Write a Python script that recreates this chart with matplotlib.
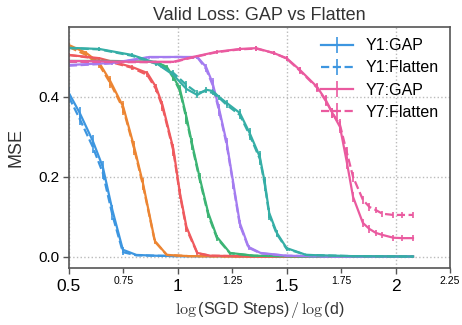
import matplotlib
matplotlib.use('Agg')
import matplotlib.pyplot as plt
from matplotlib.ticker import FixedLocator

plt.rcParams['font.family'] = ['Liberation Sans', 'DejaVu Sans']
plt.rcParams['mathtext.fontset'] = 'cm'

# %% data
names = ['Y1', 'Y2', 'Y3', 'Y4', 'Y5', 'Y6', 'Y7']
colors = ['#3d96e0', '#ec8533', '#ef5a5e', '#3cb474', '#a47cf0', '#35aea6', '#ea5a9f']

x_y1 = [0.5, 0.55, 0.61, 0.656, 0.70, 0.748, 0.81, 0.9, 1.0, 1.2, 1.5, 1.8, 2.08]
gap_y1 = [0.41, 0.36, 0.29, 0.225, 0.117, 0.018, 0.005, 0.003, 0.002, 0.002, 0.001, 0.001, 0.001]
flat_y1 = [0.40, 0.345, 0.275, 0.21, 0.105, 0.012, 0.004, 0.003, 0.002, 0.002, 0.001, 0.001, 0.001]
err_y1 = [0.015, 0.015, 0.015, 0.015, 0.012, 0.006, 0.002, 0.001, 0.001, 0.001, 0.001, 0.001, 0.001]

x_y2 = [0.5, 0.58, 0.64, 0.69, 0.75, 0.80, 0.84, 0.895, 0.95, 1.05, 1.3, 1.6, 2.08]
gap_y2 = [0.53, 0.51, 0.485, 0.44, 0.375, 0.275, 0.185, 0.04, 0.005, 0.002, 0.001, 0.001, 0.001]
flat_y2 = [0.525, 0.505, 0.48, 0.435, 0.37, 0.27, 0.18, 0.038, 0.005, 0.002, 0.001, 0.001, 0.001]
err_y2 = [0.005, 0.006, 0.008, 0.012, 0.015, 0.015, 0.012, 0.006, 0.002, 0.001, 0.001, 0.001, 0.001]

x_y3 = [0.5, 0.64, 0.79, 0.86, 0.90, 0.93, 0.98, 1.01, 1.04, 1.09, 1.15, 1.4, 1.7, 2.08]
gap_y3 = [0.505, 0.497, 0.475, 0.46, 0.425, 0.38, 0.27, 0.16, 0.075, 0.01, 0.003, 0.001, 0.001, 0.001]
flat_y3 = [0.505, 0.495, 0.473, 0.455, 0.42, 0.375, 0.265, 0.155, 0.07, 0.009, 0.003, 0.001, 0.001, 0.001]
err_y3 = [0.004, 0.004, 0.005, 0.006, 0.008, 0.01, 0.012, 0.01, 0.008, 0.003, 0.001, 0.001, 0.001, 0.001]

x_y4 = [0.5, 0.7, 0.9, 0.95, 0.98, 1.01, 1.04, 1.065, 1.10, 1.14, 1.18, 1.24, 1.35, 1.6, 2.08]
gap_y4 = [0.49, 0.49, 0.488, 0.475, 0.45, 0.42, 0.35, 0.285, 0.2, 0.11, 0.05, 0.01, 0.003, 0.001, 0.001]
flat_y4 = [0.488, 0.489, 0.487, 0.472, 0.448, 0.415, 0.345, 0.28, 0.195, 0.105, 0.047, 0.009, 0.003, 0.001, 0.001]
err_y4 = [0.006, 0.003, 0.003, 0.005, 0.008, 0.01, 0.012, 0.012, 0.01, 0.008, 0.006, 0.003, 0.001, 0.001, 0.001]

x_y5 = [0.5, 0.7, 0.87, 1.0, 1.09, 1.13, 1.16, 1.19, 1.225, 1.255, 1.285, 1.325, 1.38, 1.5, 1.7, 2.08]
gap_y5 = [0.48, 0.485, 0.50, 0.50, 0.50, 0.475, 0.435, 0.37, 0.285, 0.185, 0.085, 0.025, 0.01, 0.003, 0.001, 0.001]
flat_y5 = [0.478, 0.484, 0.499, 0.50, 0.499, 0.47, 0.43, 0.365, 0.28, 0.18, 0.08, 0.023, 0.009, 0.003, 0.001, 0.001]
err_y5 = [0.004, 0.003, 0.003, 0.003, 0.004, 0.008, 0.012, 0.012, 0.012, 0.01, 0.008, 0.005, 0.002, 0.001, 0.001, 0.001]

x_y6 = [0.5, 0.64, 0.79, 0.90, 0.98, 1.04, 1.09, 1.13, 1.16, 1.19, 1.225, 1.285, 1.33, 1.377, 1.40, 1.42,
        1.455, 1.50, 1.59, 1.8, 2.08]
gap_y6 = [0.523, 0.52, 0.505, 0.485, 0.455, 0.42, 0.405, 0.418, 0.415, 0.40, 0.385, 0.36, 0.31, 0.25, 0.185,
          0.11, 0.06, 0.022, 0.005, 0.002, 0.001]
flat_y6 = [0.522, 0.519, 0.503, 0.483, 0.46, 0.43, 0.41, 0.415, 0.41, 0.398, 0.38, 0.355, 0.305, 0.245, 0.18,
           0.105, 0.057, 0.02, 0.005, 0.002, 0.001]
err_y6 = [0.004, 0.004, 0.004, 0.005, 0.008, 0.01, 0.008, 0.006, 0.006, 0.006, 0.008, 0.01, 0.012, 0.015,
          0.015, 0.012, 0.008, 0.004, 0.002, 0.001, 0.001]

x_y7 = [0.5, 0.79, 0.98, 1.07, 1.18, 1.285, 1.36, 1.44, 1.50, 1.56, 1.64, 1.68, 1.71, 1.745, 1.777, 1.805,
        1.85, 1.88, 1.91, 1.94, 1.99, 2.03, 2.08]
gap_y7 = [0.49, 0.488, 0.488, 0.50, 0.513, 0.52, 0.522, 0.51, 0.497, 0.468, 0.425, 0.392, 0.36, 0.325, 0.235,
          0.15, 0.085, 0.07, 0.06, 0.055, 0.048, 0.047, 0.047]
flat_y7 = [0.488, 0.487, 0.487, 0.499, 0.512, 0.519, 0.521, 0.51, 0.496, 0.466, 0.423, 0.39, 0.36, 0.33, 0.26,
           0.20, 0.143, 0.125, 0.117, 0.108, 0.105, 0.105, 0.105]
err_y7 = [0.004, 0.003, 0.003, 0.003, 0.004, 0.004, 0.006, 0.006, 0.006, 0.008, 0.01, 0.012, 0.012, 0.014,
          0.014, 0.012, 0.01, 0.009, 0.008, 0.008, 0.008, 0.008, 0.008]

xs = [x_y1, x_y2, x_y3, x_y4, x_y5, x_y6, x_y7]
gaps = [gap_y1, gap_y2, gap_y3, gap_y4, gap_y5, gap_y6, gap_y7]
flats = [flat_y1, flat_y2, flat_y3, flat_y4, flat_y5, flat_y6, flat_y7]
errs = [err_y1, err_y2, err_y3, err_y4, err_y5, err_y6, err_y7]

x_major = [0.5, 1, 1.5, 2]
x_minor = [0.75, 1.25, 1.75, 2.25]
y_ticks = [0.0, 0.2, 0.4]

# %% plot
fig = plt.figure(figsize=(4.62, 3.25), dpi=100)
ax = fig.add_axes([0.149, 0.175, 0.825, 0.742])

handles = []
labels = []
for name, c, x, g, f, e in zip(names, colors, xs, gaps, flats, errs):
    h1 = ax.errorbar(x, g, yerr=e, color=c, lw=1.6, elinewidth=1.2, capsize=0)
    h2 = ax.errorbar(x, f, yerr=e, color=c, lw=1.6, elinewidth=1.2, capsize=0, ls='--')
    if name in ('Y1', 'Y7'):
        handles += [h1, h2]
        labels += [name + ':GAP', name + ':Flatten']

ax.set_xlim(0.5, 2.25)
ax.set_ylim(-0.028, 0.575)
ax.xaxis.set_major_locator(FixedLocator(x_major))
ax.xaxis.set_minor_locator(FixedLocator(x_minor))
ax.set_xticklabels(['0.5', '1', '1.5', '2'], fontsize=12.5)
ax.set_xticklabels(['0.75', '1.25', '1.75', '2.25'], minor=True, fontsize=7.5)
ax.set_yticks(y_ticks)
ax.set_yticklabels(['0.0', '0.2', '0.4'], fontsize=11)
ax.tick_params(axis='x', which='minor', length=3.5, width=1, color='#555555', pad=2)
ax.tick_params(axis='x', which='major', length=4, width=1, color='#555555', pad=4)
ax.tick_params(axis='y', length=4, width=1, color='#555555', pad=3)
ax.grid(True, which='major', ls=':', color='#bbbbbb', lw=1)
for s in ax.spines.values():
    s.set_color('#555555')
    s.set_linewidth(1.2)

ax.set_title('Valid Loss: GAP vs Flatten', fontsize=13, color='#333333', pad=5)
ax.set_ylabel('MSE', fontsize=13, color='#333333', labelpad=10)
ax.set_xlabel(r'$\log$(SGD Steps)$\,/\,\log$(d)', fontsize=11.5, color='#333333')

leg = ax.legend(handles, labels, loc='upper right', frameon=False, fontsize=11.5,
                handlelength=2.0, borderaxespad=0.3, labelspacing=0.45, handletextpad=0.8)

fig.savefig('out.png', dpi=100)
